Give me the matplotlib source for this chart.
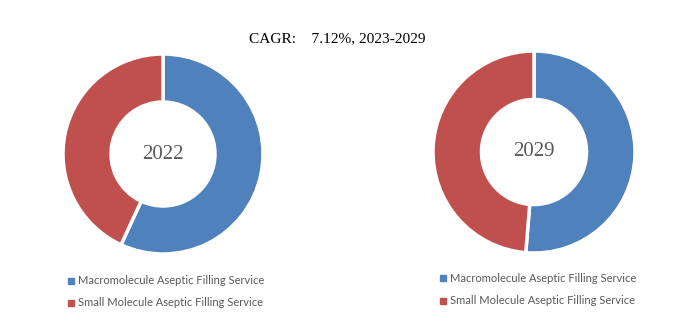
import matplotlib.pyplot as plt
from matplotlib.patches import Rectangle

# market share by segment
segments = ['Macromolecule Aseptic Filling Service', 'Small Molecule Aseptic Filling Service']
share_2022 = [56.9, 43.1]
share_2029 = [51.3, 48.7]
years = ['2022', '2029']
colors = ['#4F81BD', '#C0504D']

W, H = 697, 322
fig = plt.figure(figsize=(W / 100, H / 100), dpi=100)


def donut(cx, cy, r, values, label):
    # cx, cy, r in pixels measured from top-left
    ax = fig.add_axes([(cx - r) / W, 1 - (cy + r) / H, 2 * r / W, 2 * r / H])
    ax.pie(values, colors=colors, startangle=90, counterclock=False, radius=1,
           wedgeprops=dict(width=0.48, edgecolor='white', linewidth=2.5))
    ax.set_xlim(-1, 1)
    ax.set_ylim(-1, 1)
    ax.set_aspect('auto')
    ax.axis('off')
    ax.text(0, 0, label, ha='center', va='center', fontsize=15,
            family='Liberation Serif', color='#595959')


def legend(x, y0, dy):
    for i, name in enumerate(segments):
        y = y0 + i * dy
        fig.patches.append(Rectangle(((x - 3) / W, 1 - (y + 3) / H), 6 / W, 6 / H,
                                     color=colors[i], transform=fig.transFigure))
        fig.text((x + 7) / W, 1 - y / H, name, ha='left', va='center',
                 fontsize=8.0, family='Lato', color='#595959')


donut(163, 154, 100, share_2022, years[0])
donut(534, 152, 101, share_2029, years[1])

legend(71, 281, 22)
legend(443, 278, 23)

fig.text(337 / W, 1 - 39 / H, 'CAGR:    7.12%, 2023-2029', ha='center', va='center',
         fontsize=11.1, family='Liberation Serif', color='black')

fig.savefig('out.png', dpi=100, facecolor='white')
